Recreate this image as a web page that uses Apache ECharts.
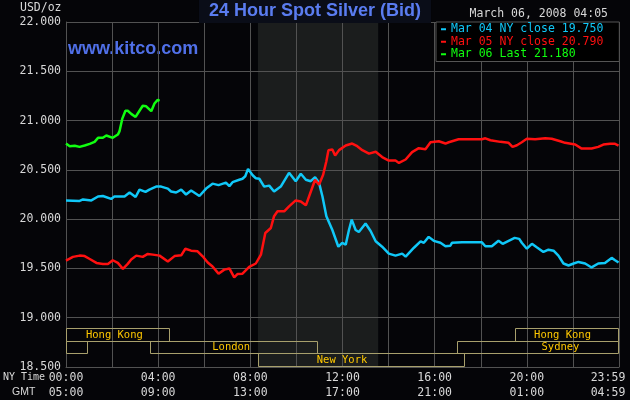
<!DOCTYPE html>
<html><head><meta charset="utf-8">
<script src="https://cdn.jsdelivr.net/npm/echarts@6/dist/echarts.min.js"></script>
<style>html,body{margin:0;padding:0;background:#050508}#c{width:630px;height:400px}</style>
</head><body><div id="c"></div>
<script>
// ---- tick labels ----
const nyTimeLabels = ['00:00','04:00','08:00','12:00','16:00','20:00','23:59'];
const gmtLabels    = ['05:00','09:00','13:00','17:00','21:00','01:00','04:59'];

// ---- series (hours after 00:00 NY time, USD/oz) ----
const mar04Name = 'Mar 04 NY close 19.750';
const mar04Hours = [0.00,0.59,0.74,1.10,1.39,1.60,1.96,2.10,2.54,2.76,3.02,3.19,3.45,3.62,3.91,4.13,4.42,4.56,4.78,5.00,5.21,5.43,5.79,6.08,6.36,6.62,6.94,7.09,7.23,7.52,7.66,7.78,7.90,8.10,8.24,8.39,8.60,8.82,9.03,9.32,9.68,9.97,10.19,10.41,10.62,10.81,10.98,11.13,11.30,11.56,11.82,11.99,12.14,12.28,12.40,12.57,12.71,13.00,13.22,13.44,13.72,14.01,14.30,14.59,14.74,15.10,15.39,15.53,15.74,15.96,16.25,16.47,16.68,16.75,17.19,18.05,18.20,18.48,18.77,18.95,19.21,19.47,19.67,19.78,20.00,20.22,20.43,20.72,20.94,21.16,21.37,21.59,21.81,22.03,22.24,22.53,22.81,23.10,23.39,23.68,23.83,23.98];
const mar04Values = [20.19,20.185,20.20,20.19,20.23,20.235,20.205,20.23,20.23,20.27,20.225,20.30,20.277,20.30,20.33,20.33,20.31,20.28,20.27,20.30,20.25,20.29,20.235,20.31,20.36,20.345,20.37,20.335,20.375,20.40,20.41,20.435,20.51,20.445,20.415,20.41,20.33,20.34,20.28,20.33,20.47,20.385,20.46,20.40,20.385,20.425,20.37,20.23,20.03,19.89,19.72,19.76,19.74,19.89,19.995,19.89,19.87,19.955,19.88,19.775,19.72,19.65,19.63,19.65,19.62,19.71,19.775,19.76,19.82,19.78,19.76,19.725,19.73,19.76,19.765,19.765,19.725,19.725,19.78,19.75,19.78,19.81,19.80,19.76,19.70,19.75,19.715,19.667,19.69,19.68,19.63,19.55,19.53,19.55,19.566,19.55,19.51,19.55,19.556,19.607,19.583,19.56];

const mar05Name = 'Mar 05 NY close 20.790';
const mar05Hours = [0.00,0.30,0.59,0.81,1.03,1.32,1.60,1.82,2.03,2.25,2.47,2.68,2.83,3.05,3.33,3.55,3.77,4.06,4.42,4.71,5.00,5.18,5.43,5.71,5.93,6.15,6.36,6.62,6.87,7.09,7.30,7.45,7.66,7.95,8.24,8.46,8.65,8.89,9.03,9.18,9.47,9.68,9.97,10.19,10.41,10.58,10.81,10.98,11.16,11.30,11.39,11.56,11.68,11.85,12.14,12.42,12.64,12.86,13.15,13.44,13.72,14.01,14.30,14.45,14.74,15.02,15.31,15.60,15.82,16.18,16.47,16.61,17.04,18.05,18.20,18.42,18.85,19.21,19.38,19.57,19.78,20.00,20.36,20.80,21.08,21.45,21.66,22.10,22.38,22.81,23.10,23.32,23.61,23.83,23.98];
const mar05Values = [19.58,19.617,19.63,19.625,19.596,19.556,19.546,19.546,19.583,19.556,19.495,19.546,19.59,19.63,19.617,19.647,19.64,19.63,19.57,19.625,19.633,19.70,19.68,19.674,19.623,19.56,19.52,19.447,19.488,19.50,19.41,19.444,19.447,19.515,19.55,19.64,19.86,19.91,20.03,20.08,20.08,20.13,20.19,20.18,20.14,20.25,20.40,20.35,20.45,20.587,20.70,20.706,20.645,20.70,20.747,20.767,20.74,20.70,20.665,20.683,20.63,20.594,20.594,20.57,20.605,20.68,20.72,20.71,20.78,20.79,20.767,20.78,20.81,20.81,20.82,20.80,20.784,20.774,20.733,20.75,20.78,20.815,20.81,20.82,20.815,20.79,20.774,20.757,20.716,20.716,20.733,20.757,20.764,20.764,20.747];

const mar06Name = 'Mar 06 Last 21.180';
const mar06Hours = [0.00,0.16,0.38,0.59,0.81,1.03,1.24,1.39,1.60,1.75,2.03,2.25,2.32,2.44,2.58,2.68,2.83,3.02,3.19,3.33,3.48,3.70,3.84,3.98,4.06];
const mar06Values = [20.767,20.74,20.745,20.733,20.747,20.764,20.784,20.825,20.825,20.848,20.825,20.858,20.89,21.017,21.10,21.10,21.068,21.037,21.10,21.15,21.145,21.095,21.173,21.21,21.20];

// ---- trading sessions (NY time hours) ----
const sessionNames   = ['Hong Kong','Hong Kong','London','London','Sydney','New York'];
const sessionStart   = [0, 19.5, 0, 3.65, 16.97, 8.33];
const sessionEnd     = [4.52, 24, 0.95, 10.95, 24, 17.33];
const sessionRow     = [0, 0, 1, 1, 1, 2];
const sessionLabelAt = [2.1, 21.55, -1, 7.17, 21.46, 11.98];
const comexSession   = [8.33, 13.55];

const MONO = '"DejaVu Sans Mono", "Liberation Mono", monospace';
const rowEdges = [18.895, 18.768, 18.643, 18.51];
const zip = (h, v) => h.map((x, i) => [x, v[i]]);

const chart = echarts.init(document.getElementById('c'), null, {renderer: 'canvas'});
chart.setOption({
  backgroundColor: '#050508',
  animation: false,
  title: {
    text: '24 Hour Spot Silver (Bid)', left: 'center', top: 0,
    backgroundColor: '#0a0d18', padding: [2, 10, 3, 10],
    textStyle: {color: '#5a7cf0', fontFamily: '"Liberation Sans", Arial, sans-serif', fontWeight: 'bold', fontSize: 18}
  },
  grid: {left: 66, right: 11, top: 22, bottom: 33, outerBoundsMode: 'none', containLabel: false},
  legend: {
    orient: 'vertical', left: 436, top: 22,
    backgroundColor: '#000', borderColor: '#555', borderWidth: 1,
    padding: [1, 16, 1, 5], itemGap: 0, itemWidth: 5, itemHeight: 2, icon: 'rect',
    selectedMode: false,
    textStyle: {fontFamily: MONO, fontSize: 11.5, lineHeight: 12.5},
    data: [
      {name: mar04Name, textStyle: {color: '#10c8f8'}},
      {name: mar05Name, textStyle: {color: '#ff1010'}},
      {name: mar06Name, textStyle: {color: '#10ff10'}}
    ]
  },
  xAxis: {
    type: 'value', min: 0, max: 24, interval: 2,
    axisLine: {show: true, lineStyle: {color: '#525252'}},
    axisTick: {show: false},
    splitLine: {show: true, lineStyle: {color: '#525252'}},
    axisLabel: {
      margin: 4, color: '#d8d8d8', fontFamily: MONO, fontSize: 11.5, lineHeight: 15,
      showMaxLabel: true, showMinLabel: true, hideOverlap: false,
      formatter: v => {
        if (v % 4 !== 0) return '';
        const i = v / 4;
        const s = i === 6 ? 'b' : 'a';
        return '{' + s + '|' + nyTimeLabels[i] + '}\n{' + s + '|' + gmtLabels[i] + '}';
      },
      rich: {
        a: {fontFamily: MONO, fontSize: 11.5, lineHeight: 15, color: '#d8d8d8'},
        b: {fontFamily: MONO, fontSize: 11.5, lineHeight: 15, color: '#d8d8d8', padding: [0, 22, 0, 0]}
      }
    }
  },
  yAxis: {
    type: 'value', min: 18.5, max: 22, interval: 0.5,
    axisLine: {show: true, lineStyle: {color: '#525252'}},
    axisTick: {show: false},
    splitLine: {show: true, lineStyle: {color: '#525252'}},
    axisLabel: {margin: 5, color: '#d8d8d8', fontFamily: MONO, fontSize: 11.5, formatter: v => v.toFixed(3)}
  },
  graphic: [
    {type: 'text', left: 20, top: 2, style: {text: 'USD/oz', fill: '#d8d8d8', font: '11.5px ' + MONO}},
    {type: 'text', left: 68, top: 40, style: {text: 'www.kitco.com', fill: '#5070e8', font: 'bold 18px "Liberation Sans", Arial, sans-serif'}},
    {type: 'text', right: 22, top: 8, style: {text: 'March 06, 2008 04:05', fill: '#d8d8d8', font: '11.5px ' + MONO}},
    {type: 'text', left: 3, top: 372, style: {text: 'NY Time', fill: '#d8d8d8', font: '10px ' + MONO}},
    {type: 'text', left: 12, top: 387, style: {text: 'GMT', fill: '#d8d8d8', font: '10.5px "Liberation Sans", Arial, sans-serif'}}
  ],
  series: [
    {
      type: 'custom', name: 'comex', z: -1, silent: true,
      data: [comexSession],
      renderItem: (params, api) => {
        const p1 = api.coord([api.value(0), 22]);
        const p2 = api.coord([api.value(1), 18.5]);
        return {type: 'rect', shape: {x: p1[0], y: p1[1], width: p2[0] - p1[0], height: p2[1] - p1[1]}, style: {fill: '#1b1d1d'}};
      }
    },
    {type: 'line', name: mar04Name, data: zip(mar04Hours, mar04Values), showSymbol: false, lineStyle: {color: '#10c8f8', width: 2.5}, itemStyle: {color: '#10c8f8'}},
    {type: 'line', name: mar05Name, data: zip(mar05Hours, mar05Values), showSymbol: false, lineStyle: {color: '#ff1010', width: 2.5}, itemStyle: {color: '#ff1010'}},
    {type: 'line', name: mar06Name, data: zip(mar06Hours, mar06Values), showSymbol: false, lineStyle: {color: '#10ff10', width: 2.5}, itemStyle: {color: '#10ff10'}},
    {
      type: 'custom', name: 'sessions', silent: true,
      data: sessionStart.map((s, i) => [s, sessionEnd[i], sessionRow[i], sessionLabelAt[i]]),
      renderItem: (params, api) => {
        const i = params.dataIndex;
        const row = api.value(2);
        const p1 = api.coord([api.value(0), rowEdges[row]]);
        const p2 = api.coord([api.value(1), rowEdges[row + 1]]);
        const x1 = Math.round(p1[0]) + 0.5, y1 = Math.round(p1[1]) + 0.5;
        const x2 = Math.round(p2[0]) - 0.5, y2 = Math.round(p2[1]) + 0.5;
        const kids = [{type: 'rect', shape: {x: x1, y: y1, width: x2 - x1, height: y2 - y1}, style: {fill: null, stroke: '#a8a06c', lineWidth: 1}}];
        const lab = api.value(3);
        if (lab >= 0) {
          kids.push({type: 'text', x: api.coord([lab, 19])[0], y: (y1 + y2) / 2,
            style: {text: sessionNames[i], fill: '#ffc800', font: '10.5px ' + MONO, align: 'center', verticalAlign: 'middle'}});
        }
        return {type: 'group', children: kids};
      }
    }
  ]
});
</script></body></html>
